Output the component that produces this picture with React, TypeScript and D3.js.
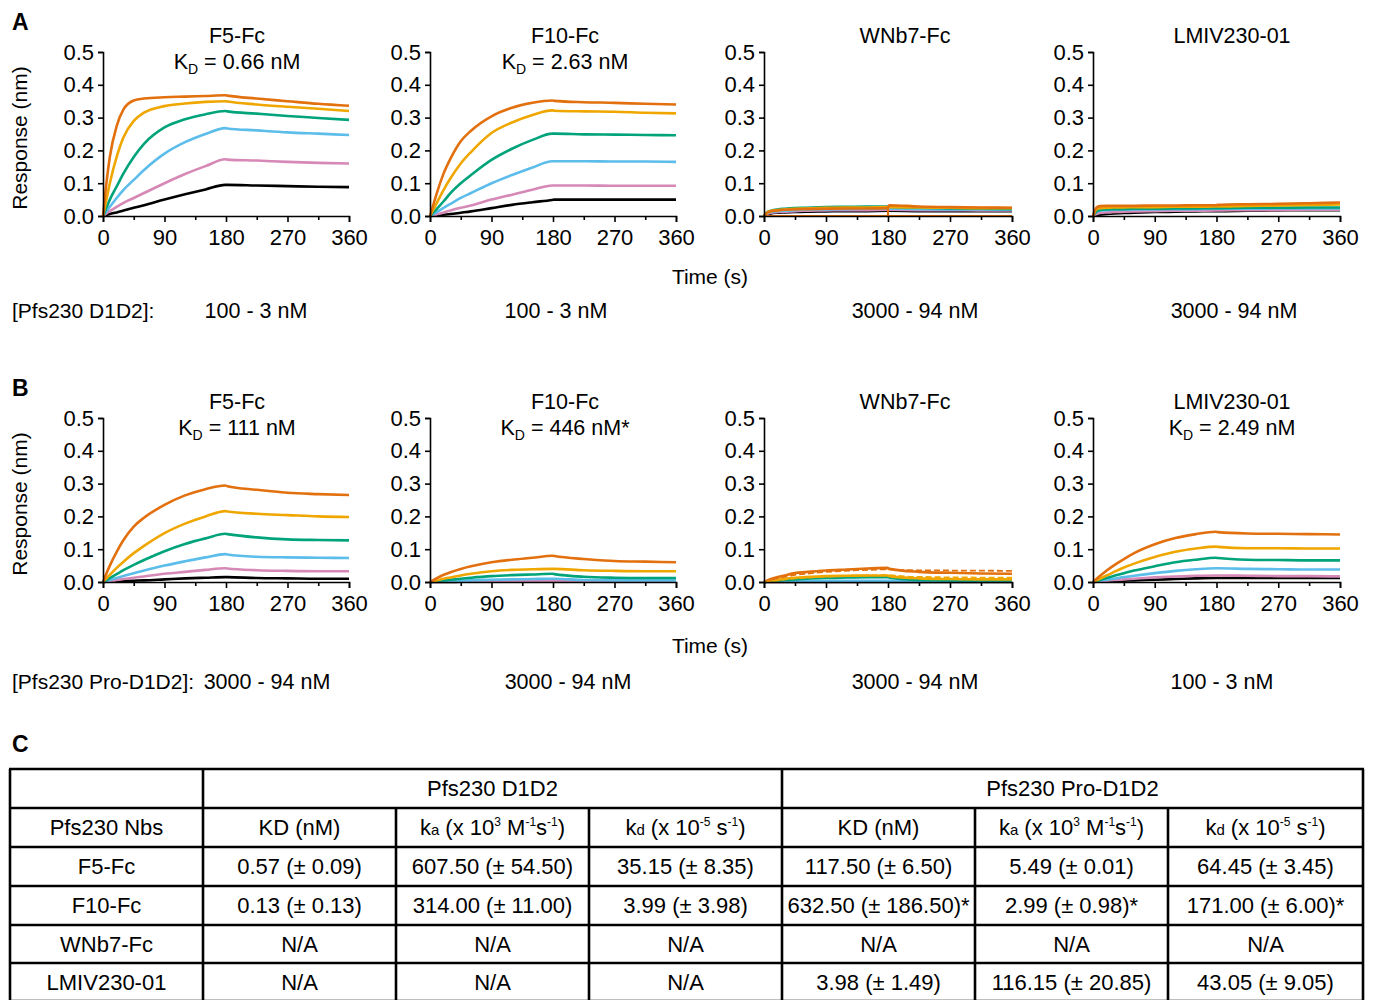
import React, { useEffect, useRef } from 'react';
import * as d3 from 'd3';

// sample times (s) shared by every trace
const TIMES = [0, 5, 10, 20, 30, 45, 60, 90, 120, 150, 179, 182, 225, 270, 315, 360];
// highest to lowest concentration
const COLORS = ['#E2700E', '#EFA700', '#00A37A', '#5CBDEB', '#D688B6', '#000000'];
const X_TICKS = [0, 90, 180, 270, 360];
const X_MINOR = [45, 135, 225, 315];
const Y_TICKS = [0, 0.1, 0.2, 0.3, 0.4, 0.5];

// Panel A: Pfs230 D1D2
const A_F5 = [
  [0, 0.10, 0.18, 0.274, 0.325, 0.352, 0.358, 0.362, 0.364, 0.366, 0.368, 0.367, 0.358, 0.350, 0.342, 0.336],
  [0, 0.05, 0.10, 0.18, 0.24, 0.29, 0.315, 0.335, 0.343, 0.348, 0.350, 0.349, 0.340, 0.333, 0.327, 0.320],
  [0, 0.025, 0.05, 0.09, 0.13, 0.18, 0.22, 0.27, 0.295, 0.31, 0.32, 0.319, 0.312, 0.305, 0.299, 0.293],
  [0, 0.014, 0.028, 0.055, 0.08, 0.11, 0.14, 0.19, 0.225, 0.25, 0.268, 0.267, 0.261, 0.255, 0.251, 0.247],
  [0, 0.008, 0.015, 0.028, 0.04, 0.055, 0.07, 0.10, 0.128, 0.152, 0.173, 0.172, 0.169, 0.165, 0.162, 0.160],
  [0, 0.003, 0.006, 0.011, 0.0165, 0.025, 0.033, 0.05, 0.066, 0.081, 0.095, 0.095, 0.093, 0.091, 0.089, 0.088],
];
const A_F10 = [
  [0, 0.035, 0.07, 0.13, 0.175, 0.228, 0.26, 0.304, 0.33, 0.345, 0.352, 0.351, 0.347, 0.345, 0.342, 0.340],
  [0, 0.02, 0.04, 0.08, 0.115, 0.16, 0.195, 0.253, 0.285, 0.308, 0.322, 0.321, 0.319, 0.318, 0.315, 0.313],
  [0, 0.011, 0.022, 0.045, 0.07, 0.10, 0.125, 0.171, 0.205, 0.232, 0.251, 0.251, 0.249, 0.248, 0.247, 0.246],
  [0, 0.006, 0.012, 0.025, 0.037, 0.055, 0.07, 0.10, 0.125, 0.148, 0.167, 0.167, 0.167, 0.166, 0.166, 0.165],
  [0, 0.002, 0.005, 0.011, 0.017, 0.025, 0.032, 0.05, 0.065, 0.08, 0.093, 0.093, 0.093, 0.092, 0.092, 0.092],
  [0, 0.001, 0.002, 0.004, 0.006, 0.01, 0.014, 0.024, 0.034, 0.042, 0.049, 0.05, 0.05, 0.05, 0.05, 0.05],
];
const A_WNB7 = [
  [0, 0.01, 0.014, 0.017, 0.019, 0.02, 0.021, 0.022, 0.023, 0.023, 0.024, 0.033, 0.029, 0.027, 0.026, 0.025],
  [0, 0.011, 0.015, 0.018, 0.02, 0.022, 0.023, 0.025, 0.026, 0.026, 0.027, 0.027, 0.026, 0.025, 0.024, 0.024],
  [0, 0.012, 0.016, 0.02, 0.022, 0.024, 0.025, 0.027, 0.028, 0.029, 0.029, 0.028, 0.025, 0.023, 0.022, 0.021],
  [0, 0.009, 0.012, 0.015, 0.016, 0.018, 0.019, 0.02, 0.021, 0.022, 0.022, 0.022, 0.021, 0.02, 0.02, 0.019],
  [0, 0.007, 0.01, 0.012, 0.013, 0.015, 0.016, 0.017, 0.018, 0.018, 0.019, 0.019, 0.018, 0.018, 0.017, 0.017],
  [0, 0.005, 0.008, 0.01, 0.011, 0.012, 0.013, 0.014, 0.015, 0.015, 0.016, 0.016, 0.015, 0.015, 0.015, 0.015],
];
const A_WNB7_FIT: [number, number][] = [[0, 0], [180, 0], [180, 0.03], [180, 0], [360, 0]];
const A_LMIV = [
  [0, 0.025, 0.03, 0.031, 0.031, 0.031, 0.031, 0.032, 0.032, 0.033, 0.033, 0.034, 0.036, 0.037, 0.039, 0.041],
  [0, 0.02, 0.024, 0.025, 0.026, 0.026, 0.027, 0.027, 0.028, 0.028, 0.029, 0.029, 0.031, 0.032, 0.034, 0.035],
  [0, 0.014, 0.018, 0.02, 0.021, 0.021, 0.022, 0.022, 0.023, 0.023, 0.024, 0.024, 0.025, 0.025, 0.026, 0.026],
  [0, 0.012, 0.016, 0.018, 0.019, 0.019, 0.02, 0.02, 0.021, 0.021, 0.022, 0.022, 0.022, 0.023, 0.023, 0.023],
  [0, 0.006, 0.009, 0.011, 0.012, 0.013, 0.014, 0.015, 0.016, 0.016, 0.017, 0.017, 0.018, 0.018, 0.019, 0.019],
  [0, 0.002, 0.004, 0.006, 0.008, 0.009, 0.01, 0.012, 0.013, 0.014, 0.015, 0.015, 0.016, 0.017, 0.018, 0.018],
];

// Panel B: Pfs230 Pro-D1D2
const B_F5 = [
  [0, 0.026, 0.05, 0.092, 0.128, 0.169, 0.196, 0.235, 0.264, 0.283, 0.294, 0.292, 0.281, 0.272, 0.268, 0.265],
  [0, 0.011, 0.022, 0.043, 0.062, 0.088, 0.11, 0.149, 0.178, 0.2, 0.216, 0.215, 0.208, 0.204, 0.200, 0.198],
  [0, 0.006, 0.012, 0.024, 0.036, 0.052, 0.067, 0.094, 0.116, 0.133, 0.147, 0.146, 0.136, 0.13, 0.128, 0.127],
  [0, 0.003, 0.006, 0.012, 0.018, 0.027, 0.035, 0.05, 0.063, 0.075, 0.085, 0.084, 0.077, 0.075, 0.074, 0.073],
  [0, 0.001, 0.003, 0.006, 0.009, 0.013, 0.017, 0.025, 0.031, 0.037, 0.042, 0.041, 0.036, 0.034, 0.033, 0.033],
  [0, 0.001, 0.001, 0.002, 0.003, 0.004, 0.005, 0.008, 0.011, 0.013, 0.015, 0.015, 0.012, 0.011, 0.01, 0.01],
];
const B_F10 = [
  [0, 0.006, 0.012, 0.022, 0.03, 0.04, 0.048, 0.06, 0.068, 0.074, 0.08, 0.079, 0.07, 0.064, 0.062, 0.06],
  [0, 0.003, 0.005, 0.01, 0.014, 0.02, 0.025, 0.033, 0.037, 0.039, 0.04, 0.04, 0.036, 0.034, 0.033, 0.033],
  [0, 0.001, 0.003, 0.005, 0.007, 0.01, 0.013, 0.018, 0.021, 0.023, 0.025, 0.024, 0.016, 0.013, 0.012, 0.012],
  [0, 0, 0.001, 0.002, 0.003, 0.004, 0.005, 0.007, 0.008, 0.009, 0.01, 0.01, 0.006, 0.005, 0.005, 0.005],
  [0, 0, 0, 0.001, 0.001, 0.001, 0.002, 0.002, 0.003, 0.003, 0.004, 0.004, 0.002, 0.002, 0.002, 0.002],
  [0, 0, 0, 0, 0, 0.001, 0.001, 0.001, 0.001, 0.001, 0.001, 0.001, 0.001, 0.001, 0.001, 0.001],
];
const B_WNB7 = [
  [0, 0.005, 0.009, 0.015, 0.02, 0.027, 0.03, 0.035, 0.038, 0.041, 0.043, 0.04, 0.031, 0.028, 0.026, 0.025],
  [0, 0.002, 0.004, 0.007, 0.01, 0.013, 0.015, 0.018, 0.019, 0.02, 0.02, 0.018, 0.011, 0.009, 0.008, 0.008],
  [0, 0.001, 0.002, 0.004, 0.006, 0.008, 0.01, 0.012, 0.014, 0.015, 0.015, 0.013, 0.006, 0.005, 0.005, 0.005],
  [0, 0, 0.001, 0.001, 0.002, 0.002, 0.003, 0.003, 0.004, 0.004, 0.004, 0.004, 0.002, 0.002, 0.002, 0.002],
  [0, 0, 0, 0, 0.001, 0.001, 0.001, 0.001, 0.001, 0.001, 0.001, 0.001, 0.001, 0.001, 0.001, 0.001],
  [0, 0, 0, 0, 0, 0, 0, 0, 0, 0, 0, 0, 0, 0, 0, 0],
];
const B_WNB7_FIT_ORANGE: [number, number][] = [[0, 0], [20, 0.012], [45, 0.022], [90, 0.031], [135, 0.036], [180, 0.039], [200, 0.036], [270, 0.035], [360, 0.034]];
const B_WNB7_FIT_YELLOW: [number, number][] = [[0, 0], [45, 0.011], [90, 0.017], [180, 0.021], [210, 0.016], [270, 0.014], [360, 0.013]];
const B_LMIV = [
  [0, 0.009, 0.018, 0.035, 0.05, 0.07, 0.088, 0.115, 0.134, 0.146, 0.153, 0.152, 0.148, 0.147, 0.146, 0.145],
  [0, 0.005, 0.01, 0.02, 0.03, 0.044, 0.056, 0.076, 0.092, 0.102, 0.108, 0.107, 0.103, 0.103, 0.102, 0.102],
  [0, 0.003, 0.006, 0.012, 0.018, 0.027, 0.035, 0.048, 0.06, 0.068, 0.074, 0.073, 0.068, 0.067, 0.066, 0.066],
  [0, 0.002, 0.004, 0.007, 0.01, 0.015, 0.019, 0.027, 0.034, 0.039, 0.042, 0.042, 0.04, 0.039, 0.038, 0.038],
  [0, 0.001, 0.002, 0.004, 0.006, 0.008, 0.01, 0.014, 0.017, 0.019, 0.02, 0.02, 0.019, 0.018, 0.018, 0.017],
  [0, 0.001, 0.001, 0.002, 0.003, 0.004, 0.005, 0.007, 0.009, 0.011, 0.012, 0.012, 0.012, 0.012, 0.012, 0.012],
];

const NANOBODIES = ['F5-Fc', 'F10-Fc', 'WNb7-Fc', 'LMIV230-01'];
const KD_A = ['0.66 nM', '2.63 nM', null, null];
const KD_B = ['111 nM', '446 nM*', null, '2.49 nM'];
const CONC_A = ['100 - 3 nM', '100 - 3 nM', '3000 - 94 nM', '3000 - 94 nM'];
const CONC_B = ['3000 - 94 nM', '3000 - 94 nM', '3000 - 94 nM', '100 - 3 nM'];

// Panel C table
const D1D2_KD = ['0.57 (± 0.09)', '0.13 (± 0.13)', 'N/A', 'N/A'];
const D1D2_KA = ['607.50 (± 54.50)', '314.00 (± 11.00)', 'N/A', 'N/A'];
const D1D2_KDIS = ['35.15 (± 8.35)', '3.99 (± 3.98)', 'N/A', 'N/A'];
const PRO_KD = ['117.50 (± 6.50)', '632.50 (± 186.50)*', 'N/A', '3.98 (± 1.49)'];
const PRO_KA = ['5.49 (± 0.01)', '2.99 (± 0.98)*', 'N/A', '116.15 (± 20.85)'];
const PRO_KDIS = ['64.45 (± 3.45)', '171.00 (± 6.00)*', 'N/A', '43.05 (± 9.05)'];

const FONT = "'Liberation Sans', Arial, Helvetica, sans-serif";
const X_RANGES = [[103, 349], [430, 676], [764, 1012], [1093, 1340]];
const TITLE_X = [237, 565, 905, 1232];
const CONC_A_X = [256, 556, 915, 1234];
const CONC_B_X = [267, 568, 915, 1222];

type Fit = { pts: [number, number][]; color: string; dashed: boolean };

const Axis = ({ scale, kind, transform, values, size, labels }: any) => {
  const ref = useRef<SVGGElement>(null);
  useEffect(() => {
    const ax = kind === 'left' ? d3.axisLeft(scale) : d3.axisBottom(scale);
    ax.tickValues(values).tickSizeOuter(0).tickSize(size).tickPadding(labels ? (kind === 'left' ? 4 : 7) : 0);
    ax.tickFormat(labels ? (kind === 'left' ? d3.format('.1f') : d3.format('d')) : () => '');
    const g = d3.select(ref.current!);
    g.call(ax as any);
    g.attr('font-family', FONT).attr('font-size', 22);
    g.selectAll('path.domain').attr('stroke-width', 1.6);
    g.selectAll('.tick line').attr('stroke-width', 1.6);
    g.selectAll('.tick text').attr('fill', '#000');
    if (!labels) g.select('path.domain').remove();
  }, []);
  return <g ref={ref} transform={transform} />;
};

const Sensorgram = ({ idx, yTop, yZero, series, kd, fits }: { idx: number; yTop: number; yZero: number; series: number[][]; kd: string | null; fits: Fit[] }) => {
  const [x0, x1] = X_RANGES[idx];
  const x = d3.scaleLinear().domain([0, 360]).range([x0, x1]);
  const y = d3.scaleLinear().domain([0, 0.5]).range([yZero, yTop]);
  const line = d3.line<number>().x((_, i) => x(TIMES[i])).y(d => y(d)).curve(d3.curveMonotoneX);
  const fitLine = d3.line<[number, number]>().x(d => x(d[0])).y(d => y(d[1]));
  const cx = TITLE_X[idx];
  return (
    <g>
      <text x={cx} y={yTop - 9} textAnchor="middle" fontFamily={FONT} fontSize={21.5}>
        {NANOBODIES[idx]}
      </text>
      {kd && (
        <text x={cx} y={yTop + 17} textAnchor="middle" fontFamily={FONT} fontSize={21.5}>
          K<tspan fontSize={14} dy={5}>D</tspan>
          <tspan dy={-5}>{' = ' + kd}</tspan>
        </text>
      )}
      {series.slice().reverse().map((s, i) => (
        <path key={i} d={line(s) || ''} fill="none" stroke={COLORS[series.length - 1 - i]} strokeWidth={2.6} strokeLinejoin="round" />
      ))}
      {fits.map((f, i) => (
        <path key={'f' + i} d={fitLine(f.pts) || ''} fill="none" stroke={f.color} strokeWidth={f.dashed ? 1.8 : 2.2} strokeDasharray={f.dashed ? '6,3' : undefined} />
      ))}
      <Axis scale={y} kind="left" transform={`translate(${x0},0)`} values={Y_TICKS} size={5} labels />
      <Axis scale={x} kind="bottom" transform={`translate(0,${yZero})`} values={X_TICKS} size={6} labels />
      <Axis scale={x} kind="bottom" transform={`translate(0,${yZero})`} values={X_MINOR} size={4} labels={false} />
    </g>
  );
};

const TextCell = ({ x, y, children }: any) => (
  <text x={x} y={y} textAnchor="middle" fontFamily={FONT} fontSize={22}>{children}</text>
);

const KaHeader = ({ x, y }: any) => (
  <TextCell x={x} y={y}>
    k<tspan fontSize={15}>a</tspan> (x 10<tspan fontSize={12} dy={-9}>3</tspan>
    <tspan dy={9}> M</tspan><tspan fontSize={12} dy={-9}>-1</tspan>
    <tspan dy={9}>s</tspan><tspan fontSize={12} dy={-9}>-1</tspan><tspan dy={9}>)</tspan>
  </TextCell>
);

const KdHeader = ({ x, y }: any) => (
  <TextCell x={x} y={y}>
    k<tspan fontSize={15}>d</tspan> (x 10<tspan fontSize={12} dy={-9}>-5</tspan>
    <tspan dy={9}> s</tspan><tspan fontSize={12} dy={-9}>-1</tspan><tspan dy={9}>)</tspan>
  </TextCell>
);

const Table = () => {
  const colX = [10, 203, 396, 589, 782, 975, 1168, 1363];
  const rowY = [769, 808, 847, 886, 925, 963, 1001];
  const mid = (i: number) => (colX[i] + colX[i + 1]) / 2;
  const base = (r: number) => (rowY[r] + rowY[r + 1]) / 2 + 7.5;
  const columns = [D1D2_KD, D1D2_KA, D1D2_KDIS, PRO_KD, PRO_KA, PRO_KDIS];
  return (
    <g>
      <TextCell x={(colX[1] + colX[4]) / 2} y={base(0)}>Pfs230 D1D2</TextCell>
      <TextCell x={(colX[4] + colX[7]) / 2} y={base(0)}>Pfs230 Pro-D1D2</TextCell>
      <TextCell x={mid(0)} y={base(1)}>Pfs230 Nbs</TextCell>
      <TextCell x={mid(1)} y={base(1)}>KD (nM)</TextCell>
      <KaHeader x={mid(2)} y={base(1)} />
      <KdHeader x={mid(3)} y={base(1)} />
      <TextCell x={mid(4)} y={base(1)}>KD (nM)</TextCell>
      <KaHeader x={mid(5)} y={base(1)} />
      <KdHeader x={mid(6)} y={base(1)} />
      {NANOBODIES.map((nb, r) => (
        <g key={nb}>
          <TextCell x={mid(0)} y={base(r + 2)}>{nb}</TextCell>
          {columns.map((col, c) => (
            <TextCell key={c} x={mid(c + 1)} y={base(r + 2)}>{col[r]}</TextCell>
          ))}
        </g>
      ))}
      {rowY.map(ry => (
        <line key={ry} x1={colX[0] - 1} x2={colX[7] + 1} y1={ry} y2={ry} stroke="#000" strokeWidth={2.6} />
      ))}
      {colX.map((cx, i) => (
        <line key={cx} x1={cx} x2={cx} y1={i === 0 || i === 1 || i === 4 || i === 7 ? rowY[0] : rowY[1]} y2={rowY[6]} stroke="#000" strokeWidth={2.6} />
      ))}
    </g>
  );
};

const PanelRow = ({ letterY, yTop, yZero, label, sets, kds, concs, concX, concY, timeY, fits }: any) => (
  <g>
    <text x={12} y={letterY} fontFamily={FONT} fontSize={23} fontWeight="bold">{label}</text>
    <text transform={`translate(27,${(yTop + yZero) / 2 + 4}) rotate(-90)`} textAnchor="middle" fontFamily={FONT} fontSize={21}>Response (nm)</text>
    {sets.map((s: number[][], i: number) => (
      <Sensorgram key={i} idx={i} yTop={yTop} yZero={yZero} series={s} kd={kds[i]} fits={fits[i]} />
    ))}
    <text x={710} y={timeY} textAnchor="middle" fontFamily={FONT} fontSize={21}>Time (s)</text>
    {concs.map((c: string, i: number) => (
      <text key={i} x={concX[i]} y={concY} textAnchor="middle" fontFamily={FONT} fontSize={21.5}>{c}</text>
    ))}
  </g>
);

export default function App() {
  const orange = COLORS[0];
  const yellow = COLORS[1];
  return (
    <svg width={1375} height={1000} style={{ position: 'absolute', left: 0, top: 0, background: '#fff' }}>
      <PanelRow
        letterY={30} yTop={52} yZero={216} label="A"
        sets={[A_F5, A_F10, A_WNB7, A_LMIV]} kds={KD_A} concs={CONC_A}
        concX={CONC_A_X} concY={318} timeY={284}
        fits={[[], [], [{ pts: A_WNB7_FIT, color: orange, dashed: false }], []]}
      />
      <text x={12} y={318} fontFamily={FONT} fontSize={21}>[Pfs230 D1D2]:</text>
      <PanelRow
        letterY={396} yTop={418} yZero={582} label="B"
        sets={[B_F5, B_F10, B_WNB7, B_LMIV]} kds={KD_B} concs={CONC_B}
        concX={CONC_B_X} concY={689} timeY={653}
        fits={[[], [], [{ pts: B_WNB7_FIT_ORANGE, color: orange, dashed: true }, { pts: B_WNB7_FIT_YELLOW, color: yellow, dashed: true }], []]}
      />
      <text x={12} y={689} fontFamily={FONT} fontSize={21}>[Pfs230 Pro-D1D2]:</text>
      <text x={12} y={752} fontFamily={FONT} fontSize={23} fontWeight="bold">C</text>
      <Table />
    </svg>
  );
}
